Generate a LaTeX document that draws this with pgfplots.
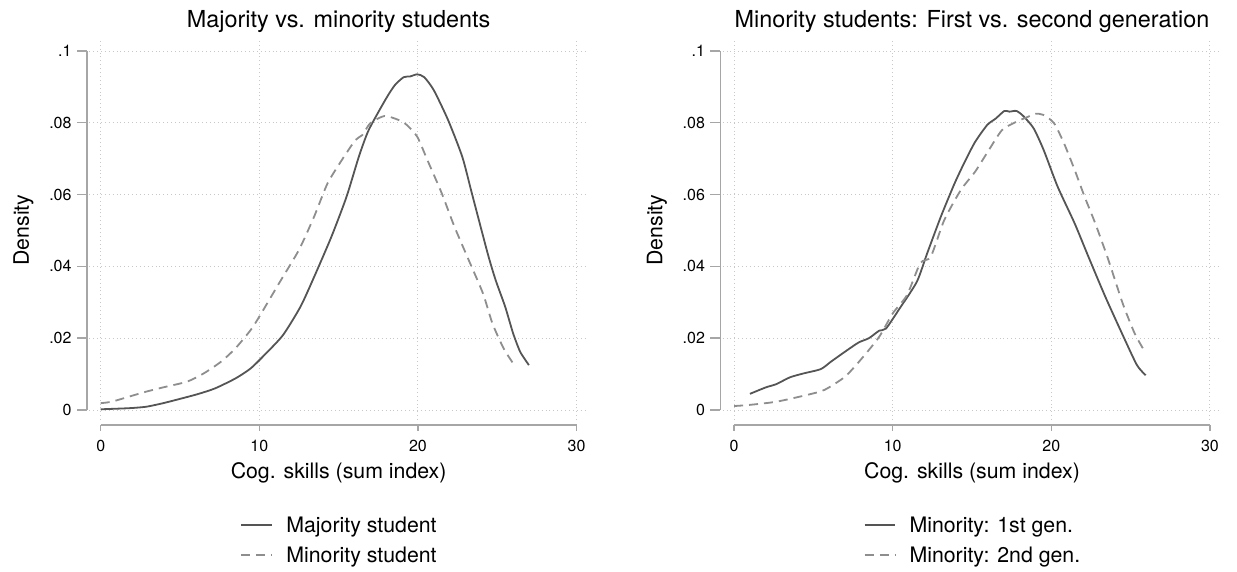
\documentclass[border=0pt]{standalone}
\usepackage{fontspec}
\setmainfont{TeX Gyre Heros}
\usepackage{pgfplots}
\pgfplotsset{compat=1.18}

\definecolor{solidgray}{HTML}{555555}
\definecolor{dashgray}{HTML}{8E8E8E}
\definecolor{axisgray}{HTML}{A6A6A6}
\definecolor{gridgray}{HTML}{C8C8C8}

\pgfplotsset{
  densplot/.style={
    anchor=south west,
    scale only axis, width=498.8pt, height=380pt,
    xmin=-0.725, xmax=30.725, ymin=-0.00279, ymax=0.10306,
    axis line style={draw=none},
    major tick length=0pt,
    xtick={0,10,20,30},
    ytick={0,0.02,0.04,0.06,0.08,0.1},
    yticklabels={0,.02,.04,.06,.08,.1},
    /pgf/number format/assume math mode=true,
    tick label style={font=\fontsize{16}{18}\selectfont, inner sep=0pt},
    xticklabel style={anchor=base, yshift=-31.4pt},
    yticklabel style={anchor=east, xshift=-17.5pt},
    grid=major,
    grid style={gridgray, line width=0.9pt, dash pattern=on 0.9pt off 3pt},
    clip=false,
    legend cell align=left,
    legend image code/.code={\draw[##1] (0pt,7pt) -- (30.6pt,7pt);},
    legend style={at={(axis description cs:0.5,0)}, anchor=north, yshift=-97pt,
      draw=none, fill=none, inner sep=0pt, column sep=13.4pt, row sep=0pt,
      font=\fontsize{21.3}{24}\selectfont,
      nodes={inner sep=0pt, anchor=base west, text height=15pt, text depth=15pt}},
  },
  majline/.style={solidgray, line width=1.8pt, smooth, tension=0.4},
  minline/.style={dashgray, line width=1.8pt, dash pattern=on 9pt off 6pt, smooth, tension=0.4},
  frame/.code={
    \draw[axisgray, line width=1.4pt] ([xshift=-2.2pt]axis cs:-0.725,0) -- ([xshift=-2.2pt]axis cs:-0.725,0.1);
    \pgfplotsinvokeforeach{0,0.02,0.04,0.06,0.08,0.1}{
      \draw[axisgray, line width=1.4pt] ([xshift=-2.2pt]axis cs:-0.725,##1) -- ++(-10pt,0pt);}
    \draw[axisgray, line width=1.4pt] ([yshift=-5pt]axis cs:0,-0.00279) -- ([yshift=-5pt]axis cs:30,-0.00279);
    \pgfplotsinvokeforeach{0,10,20,30}{
      \draw[axisgray, line width=1.4pt] ([yshift=-5pt]axis cs:##1,-0.00279) -- ++(0pt,-6pt);}
  },
}

\begin{document}
\begin{tikzpicture}
\path[use as bounding box] (0pt,0pt) rectangle (1237pt,-571pt);

% left panel
\begin{axis}[densplot, at={(89.2pt,-420pt)}]
\addplot[majline] coordinates {
(0,0.0002) (1.77,0.0005) (2.86,0.0009) (3.94,0.0019) (5.0,0.0031) (6.1,0.0044)
(7.2,0.006) (8.5,0.0088) (9.46,0.0116) (10.43,0.0158) (11.5,0.0209) (12.6,0.0288)
(13.46,0.0371) (14.55,0.0483) (15.5,0.0594) (16.28,0.0706) (16.9,0.078) (18.0,0.0868)
(18.55,0.0905) (19.1,0.0927) (19.5,0.0929) (19.96,0.0935) (20.4,0.0927) (21.0,0.0891)
(21.9,0.0808) (22.8,0.0705) (23.4,0.0604) (24.4,0.0436) (24.9,0.0362) (25.5,0.0288)
(26.0,0.0214) (26.45,0.0162) (27.0,0.0125)
};
\addlegendentry{Majority student}
\addplot[minline] coordinates {
(0,0.0019) (0.69,0.0023) (1.77,0.0037) (2.86,0.0051) (3.94,0.0063) (5.45,0.0079)
(6.5,0.0102) (7.6,0.0135) (8.5,0.0172) (9.46,0.0223) (10.0,0.026) (11.3,0.0357)
(12.5,0.0446) (13.46,0.0539) (14.3,0.0631) (15.2,0.0696) (16.06,0.0752) (16.5,0.0766)
(17.0,0.0799) (17.9,0.0819) (18.77,0.0808) (19.3,0.0794) (19.96,0.0761) (20.6,0.0696)
(21.5,0.0604) (22.3,0.0511) (23.2,0.0418) (24.1,0.0325) (24.7,0.0241) (25.4,0.0172)
(26.0,0.013)
};
\addlegendentry{Minority student}
\pgfplotsset{frame}
\node[anchor=base, font=\fontsize{23.4}{28}\selectfont] at ([yshift=13pt]axis description cs:0.5,1) {Majority vs. minority students};
\node[anchor=base, font=\fontsize{21.3}{24}\selectfont] at ([yshift=-58pt]axis description cs:0.5,0) {Cog. skills (sum index)};
\node[anchor=base, rotate=90, font=\fontsize{21.3}{24}\selectfont] at ([xshift=-60.2pt]axis description cs:0,0.5) {Density};
\end{axis}

% right panel
\begin{axis}[densplot, at={(722.6pt,-420pt)}]
\addplot[majline] coordinates {
(1.0,0.0045) (2.0,0.0063) (2.66,0.0072) (3.52,0.0091) (4.39,0.0102) (5.47,0.0114)
(6.12,0.0135) (6.98,0.0162) (7.85,0.0188) (8.5,0.02) (9.15,0.0221) (9.58,0.0227)
(10.44,0.0283) (11.52,0.0357) (12.17,0.0436) (13.04,0.0539) (13.9,0.0631) (14.55,0.0692)
(15.2,0.0747) (15.96,0.0794) (16.5,0.0812) (17.04,0.0833) (17.36,0.0831) (17.8,0.0833)
(18.23,0.0819) (18.88,0.0785) (19.52,0.0724) (20.4,0.0622) (21.47,0.052) (22.34,0.0427)
(23.4,0.0316) (24.5,0.0209) (25.4,0.0125) (25.95,0.0097)
};
\addlegendentry{Minority: 1st gen.}
\addplot[minline] coordinates {
(0,0.0011) (0.93,0.0014) (2.66,0.0023) (4.6,0.0042) (5.7,0.0056) (7.0,0.0093)
(8.06,0.0144) (9.15,0.0204) (10.0,0.0269) (10.9,0.032) (11.74,0.0409) (12.4,0.0427)
(13.25,0.0529) (14.3,0.0613) (15.2,0.0664) (16.06,0.0724) (16.9,0.078) (17.8,0.0803)
(18.44,0.0815) (19.0,0.0825) (19.5,0.0822) (20.17,0.0799) (20.8,0.0743) (21.47,0.0669)
(22.1,0.0594) (22.77,0.052) (23.6,0.0418) (24.5,0.0297) (25.25,0.0214) (25.9,0.0162)
};
\addlegendentry{Minority: 2nd gen.}
\pgfplotsset{frame}
\node[anchor=base, font=\fontsize{23.4}{28}\selectfont] at ([yshift=13pt]axis description cs:0.5,1) {Minority students: First vs. second generation};
\node[anchor=base, font=\fontsize{21.3}{24}\selectfont] at ([yshift=-58pt]axis description cs:0.5,0) {Cog. skills (sum index)};
\node[anchor=base, rotate=90, font=\fontsize{21.3}{24}\selectfont] at ([xshift=-60.2pt]axis description cs:0,0.5) {Density};
\end{axis}
\end{tikzpicture}
\end{document}
